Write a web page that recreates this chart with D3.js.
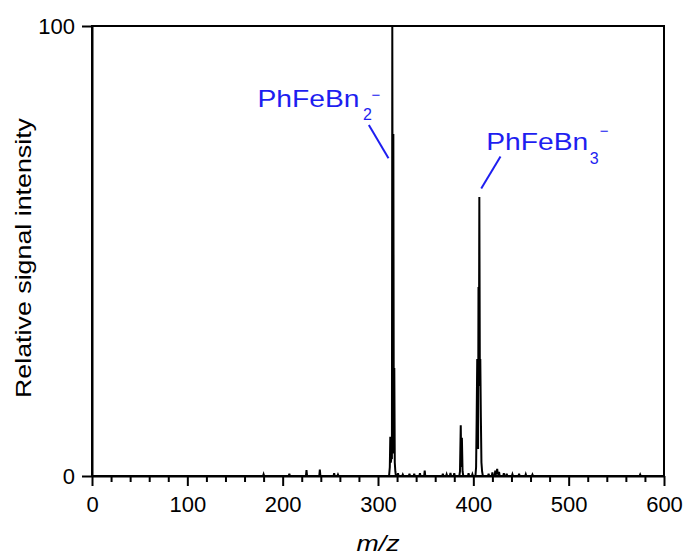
<!DOCTYPE html>
<html>
<head>
<meta charset="utf-8">
<script src="https://cdn.jsdelivr.net/npm/d3@7"></script>
<style>
  html, body { margin: 0; padding: 0; background: #fff; }
  svg { display: block; }
  text { font-family: "Liberation Sans", Arial, sans-serif; }
</style>
</head>
<body>
<svg id="chart" width="689" height="555"></svg>
<script>
// Mass spectrum profile: [m/z, relative intensity %]
const spectrumPoints = [
  [175,0],
  [179.4,0],[180,0.4],[180.6,0],
  [206.4,0],[207,0.5],[207.6,0],
  [224.4,0],[225,1.3],[225.6,0],
  [238.4,0],[239,1.4],[239.6,0],
  [253.4,0],[254,0.6],[254.6,0],
  [257.4,0],[258,0.3],[258.6,0],
  [311.6,0],[312.4,2],[312.9,8.7],[313.4,3],[314,4],[314.6,4],[315,100],[315.6,10],[316.1,76],[316.6,5],[317.1,24],[317.6,3],[318.2,1],[318.8,0],
  [320.4,0],[321,0.6],[321.6,0],
  [325.4,0],[326,0.3],[326.6,0],
  [332.4,0],[333,0.5],[333.6,0],
  [337.4,0],[338,0.5],[338.6,0],
  [343.4,0],[344,0.6],[344.6,0],
  [348.4,0],[349,1.2],[349.6,0],
  [367.4,0],[368,0.5],[368.6,0],
  [371.4,0],[372,0.4],[372.6,0],
  [375.4,0],[376,0.7],[376.6,0],
  [379.4,0],[380,0.6],[380.6,0],
  [385.3,0],[386,1],[386.8,11.3],[387.4,2],[388,8.5],[388.7,1],[389.5,0],
  [394.4,0],[395,0.6],[395.6,0],
  [398.4,0],[399,0.4],[399.6,0],
  [402.2,0],[402.9,2],[403.5,13],[404.1,26],[404.6,8],[405.0,6],[405.4,42],[405.8,20],[406.3,62],[406.8,25],[407.3,26],[407.9,13],[408.5,3],[409.2,1],[410,0],
  [415.4,0],[416,0.5],[416.6,0],
  [419.4,0],[420,0.8],[420.6,0],
  [422.4,0],[423,1.2],[423.6,0.4],[424.4,0.6],[425,1.6],[425.6,0.5],[426.4,0.4],[427,0.9],[427.6,0],
  [431.4,0],[432,0.6],[432.6,0],
  [434.4,0],[435,0.5],[435.6,0],
  [440.4,0],[441,0.4],[441.6,0],
  [447.4,0],[448,0.5],[448.6,0],
  [454.4,0],[455,0.4],[455.6,0],
  [461.4,0],[462,0.3],[462.6,0],
  [574.4,0],[575,0.3],[575.6,0],
  [590,0]
];

const xMajorTicks = [0, 100, 200, 300, 400, 500, 600];
const xMinorTicks = d3.range(0, 601, 20).filter(v => v % 100 !== 0);
const yTicks = [0, 100];

// Peak annotations
const labelBase = ["PhFeBn", "PhFeBn"];
const labelSub = ["2", "3"];
const labelCharge = ["\u2212", "\u2212"];

const svg = d3.select("#chart");
const x0 = 92, x1 = 664, y0 = 26, y1 = 476;
const x = d3.scaleLinear().domain([0, 600]).range([x0, x1]);
const y = d3.scaleLinear().domain([0, 100]).range([y1, y0]);

// frame
svg.append("rect")
  .attr("x", x0).attr("y", y0)
  .attr("width", x1 - x0).attr("height", y1 - y0)
  .attr("fill", "none").attr("stroke", "#000").attr("stroke-width", 2);

// spectrum trace
svg.append("path")
  .datum(spectrumPoints)
  .attr("fill", "none")
  .attr("stroke", "#000")
  .attr("stroke-width", 2)
  .attr("stroke-linejoin", "miter")
  .attr("d", d3.line().x(d => x(d[0])).y(d => y(d[1])));

// x axis: minor ticks
svg.append("g")
  .attr("transform", `translate(0,${y1})`)
  .call(d3.axisBottom(x).tickValues(xMinorTicks).tickSize(6).tickFormat(""))
  .call(g => g.select(".domain").remove())
  .call(g => g.selectAll(".tick line").attr("stroke-width", 2));

// x axis: major ticks with labels
svg.append("g")
  .attr("transform", `translate(0,${y1})`)
  .call(d3.axisBottom(x).tickValues(xMajorTicks).tickSize(10).tickPadding(10).tickSizeOuter(0))
  .call(g => g.select(".domain").attr("stroke-width", 2))
  .call(g => g.selectAll(".tick line").attr("stroke-width", 2))
  .call(g => g.selectAll(".tick text").attr("font-size", 22).attr("fill", "#000")
      .style("font-family", "'Liberation Sans', Arial, sans-serif"));

// y axis
svg.append("g")
  .attr("transform", `translate(${x0},0)`)
  .call(d3.axisLeft(y).tickValues(yTicks).tickSize(10).tickPadding(7).tickSizeOuter(0))
  .call(g => g.select(".domain").attr("stroke-width", 2))
  .call(g => g.selectAll(".tick line").attr("stroke-width", 2))
  .call(g => g.selectAll(".tick text").attr("font-size", 22).attr("fill", "#000")
      .style("font-family", "'Liberation Sans', Arial, sans-serif"));

// axis titles
svg.append("text")
  .attr("x", (x0 + x1) / 2).attr("y", 551)
  .attr("text-anchor", "middle")
  .attr("font-size", 22).attr("font-style", "italic")
  .attr("textLength", 43).attr("lengthAdjust", "spacingAndGlyphs")
  .text("m/z");

svg.append("text")
  .attr("transform", "translate(30.5,258) rotate(-90)")
  .attr("text-anchor", "middle")
  .attr("font-size", 22)
  .attr("textLength", 280).attr("lengthAdjust", "spacingAndGlyphs")
  .text("Relative signal intensity");

// peak labels
const blue = "#1e1ef0";
const labelLayout = [
  { base: [173.6, 82.1], line: [[290.4, 78], [311, 70.6]], subDx: 105.5, subDy: 13.5, chgDx: 114, chgDy: -6.5 },
  { base: [413.5, 72.4], line: [[428.5, 71], [408.3, 63.9]], subDx: 103.5, subDy: 13.5, chgDx: 113.5, chgDy: -14 }
];
labelLayout.forEach((L, i) => {
  const bx = x(L.base[0]), by = y(L.base[1]);
  svg.append("text")
    .attr("x", bx).attr("y", by)
    .attr("font-size", 24.5).attr("fill", blue)
    .attr("textLength", 102).attr("lengthAdjust", "spacingAndGlyphs")
    .text(labelBase[i]);
  svg.append("text")
    .attr("x", bx + L.subDx).attr("y", by + L.subDy)
    .attr("font-size", 16).attr("fill", blue)
    .text(labelSub[i]);
  svg.append("text")
    .attr("x", bx + L.chgDx).attr("y", by + L.chgDy)
    .attr("font-size", 15).attr("fill", blue)
    .text(labelCharge[i]);
  svg.append("line")
    .attr("x1", x(L.line[0][0])).attr("y1", y(L.line[0][1]))
    .attr("x2", x(L.line[1][0])).attr("y2", y(L.line[1][1]))
    .attr("stroke", blue).attr("stroke-width", 2);
});
</script>
</body>
</html>
